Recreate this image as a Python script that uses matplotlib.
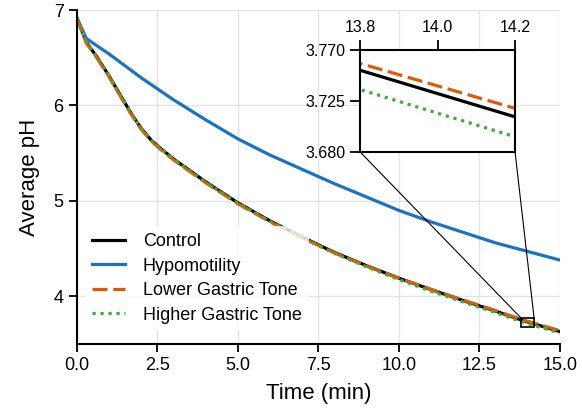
#!/usr/bin/env python3
import numpy as np
import matplotlib
matplotlib.use('Agg')
import matplotlib.pyplot as plt
from matplotlib.patches import Rectangle, ConnectionPatch

plt.rcParams['font.family'] = ['Liberation Sans', 'DejaVu Sans']

# simulated gastric pH
time_min = [0, 0.3, 0.6, 1.0, 1.4, 1.7, 2.0, 2.3, 2.6, 3.0, 3.5, 4.0, 4.5,
            5.0, 6.0, 7.0, 8.0, 9.0, 10.0, 11.0, 12.0, 13.0, 13.8, 14.2, 15.0]
ph_control = [6.92, 6.66, 6.52, 6.31, 6.08, 5.91, 5.76, 5.64, 5.55, 5.44, 5.32, 5.20, 5.09,
              4.98, 4.79, 4.62, 4.46, 4.32, 4.19, 4.07, 3.955, 3.845, 3.752, 3.711, 3.63]
ph_lower = [6.92, 6.65, 6.51, 6.30, 6.07, 5.90, 5.75, 5.63, 5.54, 5.43, 5.31, 5.19, 5.08,
            4.97, 4.78, 4.612, 4.455, 4.318, 4.19, 4.072, 3.96, 3.851, 3.758, 3.7185, 3.64]
ph_higher = [6.92, 6.66, 6.52, 6.31, 6.08, 5.91, 5.76, 5.64, 5.55, 5.44, 5.315, 5.195, 5.085,
             4.975, 4.785, 4.612, 4.45, 4.308, 4.175, 4.053, 3.94, 3.829, 3.735, 3.6935, 3.615]

time_hypo = [0, 0.3, 1, 2, 3, 4, 5, 6, 7, 8, 9, 10, 11, 12, 13, 14, 15]
ph_hypo = [6.92, 6.70, 6.54, 6.29, 6.06, 5.85, 5.65, 5.48, 5.33, 5.18, 5.04, 4.90,
           4.78, 4.67, 4.56, 4.47, 4.38]

labels = ['Control', 'Hypomotility', 'Lower Gastric Tone', 'Higher Gastric Tone']
colors = ['black', '#1A72C2', '#DD5A0A', '#3DAE3D']
styles = ['-', '-', (0, (4.7, 1.8)), (0, (1, 1.5))]

zoom_x = (13.8, 14.2)
zoom_y = (3.68, 3.77)


def draw_lines(ax, lw):
    series = [(time_min, ph_control), (time_hypo, ph_hypo),
              (time_min, ph_lower), (time_min, ph_higher)]
    for (t, y), lab, c, ls in zip(series, labels, colors, styles):
        ax.plot(t, y, color=c, ls=ls, lw=lw, label=lab)


def main():
    fig = plt.figure(figsize=(5.82, 4.19), dpi=100)
    ax = fig.add_axes([0.132, 0.179, 0.830, 0.797])

    draw_lines(ax, 2.3)
    ax.set_xlim(0, 15)
    ax.set_ylim(3.5, 7.0)
    ax.set_xticks([0, 2.5, 5, 7.5, 10, 12.5, 15])
    ax.set_xticklabels(['0.0', '2.5', '5.0', '7.5', '10.0', '12.5', '15.0'])
    ax.set_yticks([4, 5, 6, 7])
    ax.grid(True, color='#e3e3e3', lw=1.0)
    ax.set_axisbelow(True)
    for s in ['top', 'right']:
        ax.spines[s].set_visible(False)
    for s in ['left', 'bottom']:
        ax.spines[s].set_linewidth(1.5)
    ax.tick_params(direction='out', length=6, width=1.3, labelsize=13)
    ax.set_xlabel('Time (min)', fontsize=16, labelpad=6)
    ax.set_ylabel('Average pH', fontsize=16, labelpad=10)

    leg = ax.legend(loc='lower left', bbox_to_anchor=(-0.002, 0.012), fontsize=13,
                    handlelength=1.8, handletextpad=1.0, labelspacing=0.42,
                    frameon=True, framealpha=0.8, edgecolor='none', fancybox=False)
    leg.get_frame().set_facecolor('white')

    # zoomed inset
    axins = fig.add_axes([0.619, 0.637, 0.266, 0.244])
    draw_lines(axins, 2.3)
    axins.set_xlim(*zoom_x)
    axins.set_ylim(*zoom_y)
    axins.set_xticks([13.8, 14.0, 14.2])
    axins.set_xticklabels(['13.8', '14.0', '14.2'])
    axins.set_yticks([3.68, 3.725, 3.77])
    axins.set_yticklabels(['3.680', '3.725', '3.770'])
    axins.xaxis.tick_top()
    axins.tick_params(direction='out', length=7, width=1.3, labelsize=11.5)
    for s in axins.spines.values():
        s.set_linewidth(1.5)
    axins.set_facecolor('white')

    rect = Rectangle((zoom_x[0], zoom_y[0]), zoom_x[1] - zoom_x[0], zoom_y[1] - zoom_y[0],
                     fill=False, ec='black', lw=1.2, zorder=5)
    ax.add_patch(rect)
    for xc in zoom_x:
        con = ConnectionPatch(xyA=(xc, zoom_y[0]), coordsA=axins.transData,
                              xyB=(xc, zoom_y[1]), coordsB=ax.transData,
                              color='black', lw=0.8)
        fig.add_artist(con)

    fig.savefig('out.png', dpi=100)


if __name__ == '__main__':
    main()
